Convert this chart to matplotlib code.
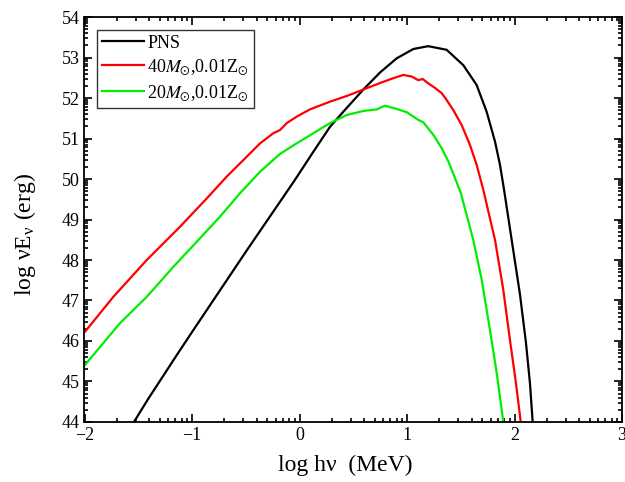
import numpy as np
import matplotlib
matplotlib.use("Agg")
import matplotlib.pyplot as plt
from matplotlib.ticker import FixedLocator

plt.rcParams["font.family"] = ["Liberation Serif", "DejaVu Serif"]
plt.rcParams["mathtext.fontset"] = "stix"

# log h nu (MeV) vs log nu E_nu (erg)
pns_x = [-1.60, -1.54, -1.41, -1.13, -1.0, -0.5, -0.042, 0.128, 0.284, 0.407, 0.594,
         0.749, 0.904, 1.059, 1.198, 1.369, 1.524, 1.648, 1.741, 1.819, 1.865, 1.902,
         1.974, 2.051, 2.107, 2.144, 2.169, 2.19]
pns_y = [43.76, 44.0, 44.56, 45.70, 46.22, 48.20, 49.98, 50.67, 51.29, 51.66, 52.21,
         52.63, 52.98, 53.21, 53.28, 53.19, 52.81, 52.32, 51.66, 50.92, 50.35, 49.75,
         48.49, 47.15, 45.95, 44.95, 44.0, 43.2]

m40_x = [-1.995, -1.732, -1.421, -1.112, -0.863, -0.677, -0.491, -0.367, -0.244, -0.181,
         -0.119, -0.026, 0.098, 0.284, 0.439, 0.594, 0.749, 0.873, 0.966, 1.044, 1.105,
         1.146, 1.198, 1.26, 1.323, 1.369, 1.431, 1.509, 1.586, 1.648, 1.71, 1.819, 1.896,
         1.958, 2.014, 2.058, 2.08]
m40_y = [46.23, 47.09, 48.00, 48.82, 49.52, 50.06, 50.55, 50.88, 51.13, 51.21,
         51.38, 51.54, 51.72, 51.91, 52.05, 52.21, 52.37, 52.49, 52.57, 52.53, 52.44,
         52.47, 52.36, 52.25, 52.12, 51.95, 51.70, 51.33, 50.84, 50.35, 49.73, 48.49, 47.26,
         46.02, 44.95, 44.0, 43.4]

m20_x = [-1.995, -1.67, -1.421, -1.174, -0.956, -0.74, -0.553, -0.367, -0.181, -0.026,
         0.128, 0.284, 0.439, 0.594, 0.718, 0.795, 0.904, 0.997, 1.105, 1.152, 1.245,
         1.323, 1.385, 1.447, 1.50, 1.617, 1.695, 1.772, 1.835, 1.896, 1.92]
m20_y = [45.41, 46.44, 47.09, 47.83, 48.45, 49.07, 49.65, 50.18, 50.62, 50.88,
         51.13, 51.38, 51.58, 51.68, 51.72, 51.81, 51.73, 51.65, 51.46, 51.40, 51.09,
         50.76, 50.43, 50.02, 49.66, 48.49, 47.51, 46.27, 45.20, 44.0, 43.5]

labels = ["PNS", r"40$M_{\odot}$,0.01Z$_{\odot}$", r"20$M_{\odot}$,0.01Z$_{\odot}$"]

fig = plt.figure(figsize=(6.25, 4.82), dpi=100)
ax = fig.add_axes([0.1352, 0.1245, 0.8600, 0.8402])

ax.plot(pns_x, pns_y, color="black", lw=1.6, label=labels[0])
ax.plot(m40_x, m40_y, color="#ff0000", lw=1.6, label=labels[1])
ax.plot(m20_x, m20_y, color="#00ee00", lw=1.6, label=labels[2])

ax.set_xlim(-2, 3)
ax.set_ylim(44, 54)
ax.set_xticks(range(-2, 4))
ax.set_xticklabels(["\u22122", "\u22121", "0", "1", "2", "3"])
ax.set_yticks(range(44, 55))

# decade-style minor ticks inside each unit
offs = np.log10(np.arange(2, 10))
ax.xaxis.set_minor_locator(FixedLocator([n + o for n in range(-2, 3) for o in offs]))
ax.yaxis.set_minor_locator(FixedLocator([n + o for n in range(44, 54) for o in offs]))

ax.tick_params(which="both", direction="in", top=True, right=True, labelsize=13, width=1.2)
ax.tick_params(which="major", length=6)
ax.tick_params(which="minor", length=3)
for s in ax.spines.values():
    s.set_linewidth(1.3)

ax.set_xlabel("log hν  (MeV)", fontsize=17)
ax.set_ylabel("log νE$_\\mathregular{ν}$ (erg)", fontsize=17)
ax.xaxis.set_label_coords(0.485, -0.08)
ax.yaxis.set_label_coords(-0.087, 0.464)

leg = ax.legend(loc="upper left", fontsize=13, frameon=True, fancybox=False,
                edgecolor="black", handlelength=2.3, borderpad=0.28,
                labelspacing=0.3, handletextpad=0.2, borderaxespad=0.7)
leg.get_frame().set_linewidth(1.0)

fig.savefig("out.png", dpi=100)
